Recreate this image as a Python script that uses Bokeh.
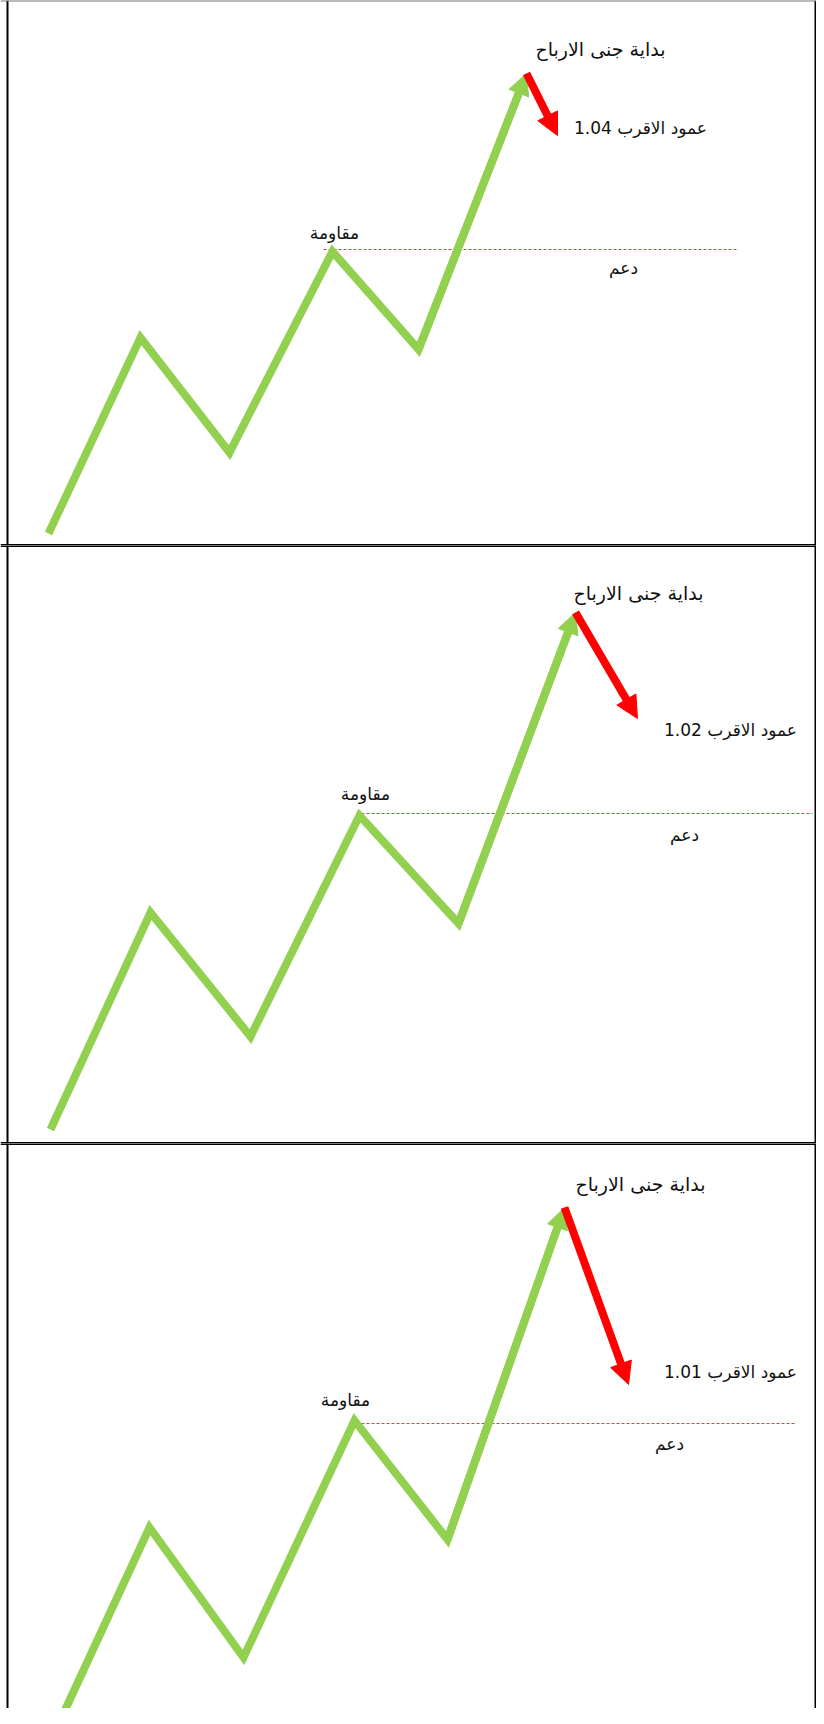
import math
from bokeh.plotting import figure
from bokeh.layouts import column
from bokeh.models import Range1d, ColumnDataSource, Arrow, NormalHead, Span
from bokeh.core.properties import value
from bokeh.embed import file_html
from bokeh.resources import INLINE

# ---- data (schematic price path per panel) ----
p1_x = [48, 140, 229, 332, 418, 526]
p1_y = [12, 208, 93, 294, 196, 472]
p1_pull_x = [526, 557]
p1_pull_y = [472, 410]
p1_res_x = [323, 737]
p1_res_y = 296
p1_label_val = "عمود الاقرب 1.04"

p2_x = [50, 150, 250, 359, 458, 575]
p2_y = [14, 231, 107, 328, 220, 531]
p2_pull_x = [575, 637]
p2_pull_y = [531, 425]
p2_res_x = [356, 812]
p2_res_y = 330
p2_label_val = "عمود الاقرب 1.02"

p3_x = [56, 149, 243, 354, 447, 564]
p3_y = [-4, 197, 67, 304, 185, 517]
p3_pull_x = [564, 628]
p3_pull_y = [517, 340]
p3_res_x = [356, 796]
p3_res_y = 301
p3_label_val = "عمود الاقرب 1.01"

label_top = "بداية جنى الارباح"
label_res = "مقاومة"
label_sup = "دعم"

# label anchor positions per panel: (top, value, resistance, support)
p1_lab_x = [600, 640, 334, 623]
p1_lab_y = [497, 418, 313, 278]
p2_lab_x = [638, 730, 365, 684]
p2_lab_y = [551, 414, 350, 309]
p3_lab_x = [640, 730, 345, 669]
p3_lab_y = [541, 353, 325, 281]
lab_sizes = ["19px", "17px", "17px", "17px"]

GREEN = "#92D050"
RED = "#FF0000"
FONT = "DejaVu Sans"
W = 816


def panel(xs, ys, pull_x, pull_y, res_x, res_y, val_label, lab_x, lab_y, y0, h,
          top_border, bottom_border):
    p = figure(width=W, height=h, x_range=Range1d(0, W), y_range=Range1d(y0, y0 + h),
               output_backend="svg", toolbar_location=None, min_border=0,
               background_fill_color="white", border_fill_color="white")
    p.axis.visible = False
    p.grid.visible = False
    p.outline_line_alpha = 0

    # panel borders
    p.add_layout(Span(location=7, dimension="height", line_color="black", line_width=2))
    p.add_layout(Span(location=W - 1, dimension="height", line_color="black", line_width=2))
    if top_border is not None:
        p.add_layout(Span(location=y0 + h, dimension="width", line_color=top_border[0],
                          line_width=top_border[1]))
    if bottom_border:
        p.add_layout(Span(location=y0, dimension="width", line_color="black", line_width=3))

    # resistance / support dashed line
    p.line(x=res_x, y=[res_y, res_y], line_color="#E03C3C", line_width=1, line_dash="3 2")

    # green path; stop short of tip so the arrow head forms the point
    head = 21
    dx = xs[-1] - xs[-2]
    dy = ys[-1] - ys[-2]
    L = math.hypot(dx, dy)
    bx = xs[-1] - dx / L * (head * 0.8)
    by = ys[-1] - dy / L * (head * 0.8)
    p.line(x=xs[:-1] + [bx], y=ys[:-1] + [by], line_color=GREEN, line_width=8,
           line_join="miter")
    gsrc = ColumnDataSource(dict(x0=[xs[-2]], y0=[ys[-2]], x1=[xs[-1]], y1=[ys[-1]]))
    p.add_layout(Arrow(end=NormalHead(size=head, fill_color=GREEN, line_color=GREEN, line_width=1),
                       x_start="x0", y_start="y0", x_end="x1", y_end="y1",
                       line_color=GREEN, line_width=8, source=gsrc))

    # red pullback arrow
    rsrc = ColumnDataSource(dict(x0=[pull_x[0]], y0=[pull_y[0]], x1=[pull_x[1]], y1=[pull_y[1]]))
    p.add_layout(Arrow(end=NormalHead(size=22, fill_color=RED, line_color=RED, line_width=1),
                       x_start="x0", y_start="y0", x_end="x1", y_end="y1",
                       line_color=RED, line_width=8, source=rsrc))

    src = ColumnDataSource(dict(x=lab_x, y=lab_y, s=lab_sizes,
                                t=[label_top, val_label, label_res, label_sup]))
    p.text(x="x", y="y", text="t", source=src, text_font=value(FONT), text_font_size="s",
           text_color="#111111", text_align="center", text_baseline="middle")
    return p


a = panel(p1_x, p1_y, p1_pull_x, p1_pull_y, p1_res_x, p1_res_y, p1_label_val,
          p1_lab_x, p1_lab_y, 0, 545, ("#777777", 2), True)
b = panel(p2_x, p2_y, p2_pull_x, p2_pull_y, p2_res_x, p2_res_y, p2_label_val,
          p2_lab_x, p2_lab_y, 0, 598, ("black", 3), True)
c = panel(p3_x, p3_y, p3_pull_x, p3_pull_y, p3_res_x, p3_res_y, p3_label_val,
          p3_lab_x, p3_lab_y, 16, 565, ("black", 3), False)

layout = column(a, b, c, spacing=0)
open("out.html", "w").write(file_html(layout, INLINE))
